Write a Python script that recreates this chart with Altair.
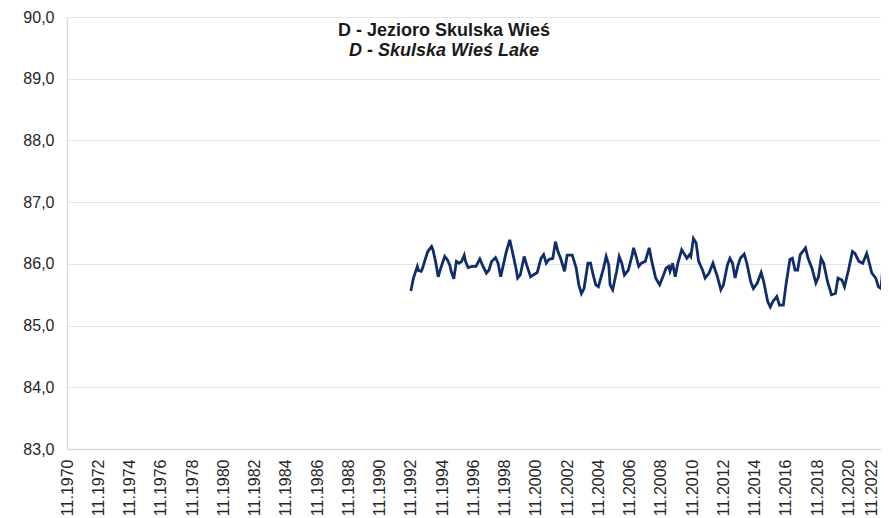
import altair as alt
import pandas as pd

# Water level (m a.s.l.), month by month samples
dates = [
    "1992-11", "1993-01", "1993-04", "1993-05", "1993-07", "1993-08", "1993-10", "1993-12",
    "1994-03", "1994-04", "1994-06", "1994-08", "1994-10", "1995-01", "1995-03", "1995-05",
    "1995-06", "1995-08", "1995-10", "1995-12", "1996-02", "1996-04", "1996-05", "1996-07",
    "1996-10", "1997-01", "1997-04", "1997-06", "1997-09", "1997-11", "1998-01", "1998-04",
    "1998-06", "1998-08", "1998-10", "1998-12", "1999-03", "1999-05", "1999-08", "1999-09",
    "1999-11", "2000-02", "2000-04", "2000-07", "2000-09", "2000-12", "2001-03", "2001-05",
    "2001-07", "2001-09", "2001-12", "2002-02", "2002-04", "2002-06", "2002-09", "2002-11",
    "2003-03", "2003-06", "2003-08", "2003-10", "2003-12", "2004-03", "2004-05", "2004-07",
    "2004-09", "2004-11", "2005-03", "2005-05", "2005-07", "2005-08", "2005-10", "2006-01",
    "2006-03", "2006-05", "2006-07", "2006-10", "2007-01", "2007-02", "2007-04", "2007-06",
    "2007-08", "2007-11", "2008-02", "2008-04", "2008-07", "2008-10", "2009-01", "2009-03",
    "2009-05", "2009-06", "2009-08", "2009-10", "2009-12", "2010-03", "2010-07", "2010-09",
    "2010-10", "2010-12", "2011-02", "2011-04", "2011-07", "2011-09", "2011-12", "2012-03",
    "2012-05", "2012-06", "2012-09", "2012-11", "2013-02", "2013-04", "2013-06", "2013-08",
    "2013-10", "2013-12", "2014-03", "2014-05", "2014-08", "2014-10", "2015-01", "2015-04",
    "2015-06", "2015-09", "2015-11", "2016-01", "2016-04", "2016-06", "2016-09", "2016-11",
    "2017-02", "2017-04", "2017-06", "2017-08", "2017-10", "2018-02", "2018-04", "2018-07",
    "2018-10", "2018-12", "2019-02", "2019-04", "2019-07", "2019-10", "2020-01", "2020-03",
    "2020-06", "2020-08", "2020-11", "2021-02", "2021-04", "2021-07", "2021-10", "2022-01",
    "2022-02", "2022-05", "2022-08", "2022-10", "2022-12", "2023-02", "2023-04", "2023-05",
]
levels = [
    85.56, 85.77, 85.96, 85.89, 85.88, 85.93, 86.07, 86.20,
    86.28, 86.23, 86.04, 85.79, 85.93, 86.12, 86.07, 85.98,
    85.88, 85.76, 86.04, 86.01, 86.04, 86.14, 86.04, 85.94,
    85.96, 85.96, 86.08, 85.98, 85.85, 85.90, 86.04, 86.10,
    86.01, 85.79, 85.98, 86.17, 86.39, 86.20, 85.90, 85.77,
    85.82, 86.12, 85.98, 85.79, 85.82, 85.86, 86.09, 86.15,
    86.01, 86.07, 86.09, 86.36, 86.20, 86.09, 85.88, 86.14,
    86.14, 85.93, 85.66, 85.52, 85.60, 86.01, 86.01, 85.82,
    85.66, 85.63, 85.93, 86.12, 85.98, 85.66, 85.58, 85.88,
    86.12, 86.01, 85.82, 85.90, 86.15, 86.26, 86.12, 85.96,
    86.01, 86.04, 86.26, 86.04, 85.77, 85.66, 85.82, 85.93,
    85.96, 85.88, 86.01, 85.79, 86.01, 86.23, 86.09, 86.15,
    86.12, 86.41, 86.34, 86.04, 85.90, 85.77, 85.85, 86.01,
    85.88, 85.82, 85.58, 85.66, 85.98, 86.09, 86.01, 85.77,
    85.96, 86.09, 86.16, 86.01, 85.71, 85.60, 85.69, 85.86,
    85.71, 85.39, 85.30, 85.39, 85.47, 85.33, 85.33, 85.66,
    86.07, 86.09, 85.90, 85.90, 86.15, 86.26, 86.09, 85.93,
    85.69, 85.79, 86.09, 86.01, 85.71, 85.50, 85.52, 85.77,
    85.74, 85.63, 85.90, 86.20, 86.17, 86.04, 86.01, 86.17,
    86.09, 85.85, 85.77, 85.63, 85.60, 86.09, 86.09, 85.88,
]

title_pl = "D - Jezioro Skulska Wieś"
title_en = "D - Skulska Wieś Lake"
y_ticks = [83, 84, 85, 86, 87, 88, 89, 90]
x_tick_years = list(range(1970, 2023, 2))

FONT = "Liberation Sans"
GRID = "#e4e4e4"

df = pd.DataFrame({"date": pd.to_datetime(dates, format="%Y-%m"), "level": levels})

x_enc = alt.X(
    "date:T",
    scale=alt.Scale(
        domain=[alt.DateTime(year=1970, month=11, date=1),
                alt.DateTime(year=2022, month=12, date=1)]
    ),
    axis=alt.Axis(
        title=None,
        values=[alt.DateTime(year=y, month=11, date=1) for y in x_tick_years],
        format="%m.%Y",
        labelAngle=270,
        labelAlign="right",
        labelBaseline={
            "condition": {"test": "year(datum.value) >= 2022", "value": "bottom"},
            "value": "middle",
        },
        labelPadding=10,
        ticks=False,
        grid=False,
        domainColor="#d9d9d9",
        domainWidth=1.5,
        labelFont=FONT,
        labelFontSize=16,
        labelColor="#262626",
        labelOverlap=False,
        labelFlush=False,
    ),
)
y_enc = alt.Y(
    "level:Q",
    scale=alt.Scale(domain=[83, 90], nice=False, zero=False),
    axis=alt.Axis(
        title=None,
        values=y_ticks,
        labelExpr="replace(format(datum.value, '.1f'), '.', ',')",
        ticks=False,
        labelPadding=13,
        grid=True,
        gridColor=GRID,
        gridWidth=1.2,
        domainColor="#d9d9d9",
        domainWidth=1.2,
        labelFont=FONT,
        labelFontSize=16,
        labelColor="#262626",
    ),
)

line = alt.Chart(df).mark_line(color="#102d6b", strokeWidth=2.8, clip=True).encode(
    x=x_enc, y=y_enc
)

t1 = alt.Chart(pd.DataFrame({"t": [title_pl]})).mark_text(
    font=FONT, fontSize=18, fontWeight="bold", color="#1a1a1a",
    align="center", baseline="alphabetic"
).encode(text="t:N", x=alt.value(377), y=alt.value(19))

t2 = alt.Chart(pd.DataFrame({"t": [title_en]})).mark_text(
    font=FONT, fontSize=18, fontWeight="bold", fontStyle="italic", color="#1a1a1a",
    align="center", baseline="alphabetic"
).encode(text="t:N", x=alt.value(377), y=alt.value(38.5))

chart = alt.layer(line, t1, t2).properties(
    width=814,
    height=432,
    padding={"left": 59, "top": 9, "right": 0, "bottom": 69},
    autosize=alt.AutoSizeParams(type="none"),
    background="white",
).configure_view(stroke=None)

chart.save("out.html", embed_options={"renderer": "svg", "actions": False})
